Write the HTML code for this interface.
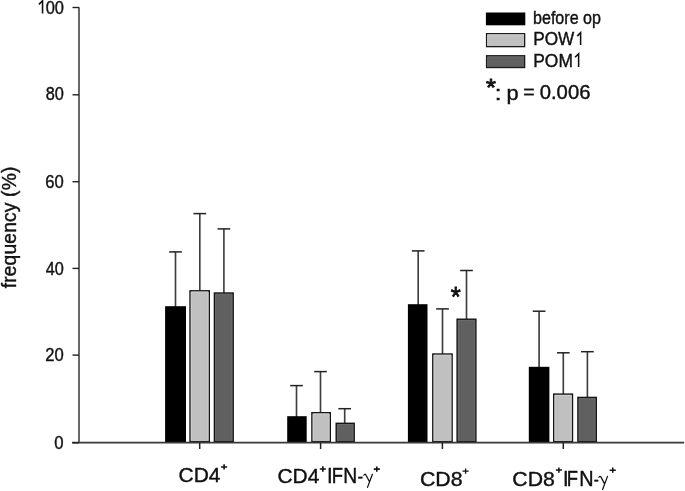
<!DOCTYPE html>
<html><head><meta charset="utf-8"><style>
html,body{margin:0;padding:0;background:#fff;}
svg{display:block;}
text{font-family:"Liberation Sans",sans-serif;fill:#111;font-kerning:none;stroke:#111;stroke-width:0.4px;}
</style></head><body>
<svg style="will-change:transform" width="685" height="491" viewBox="0 0 685 491">
<rect width="685" height="491" fill="#fff"/>
<line x1="175.50" y1="307.20" x2="175.50" y2="251.90" stroke="#3e3e3e" stroke-width="1.65"/>
<line x1="169.15" y1="251.90" x2="181.85" y2="251.90" stroke="#222" stroke-width="1.5"/>
<line x1="199.80" y1="291.10" x2="199.80" y2="213.60" stroke="#3e3e3e" stroke-width="1.65"/>
<line x1="193.45" y1="213.60" x2="206.15" y2="213.60" stroke="#222" stroke-width="1.5"/>
<line x1="223.90" y1="293.30" x2="223.90" y2="228.90" stroke="#3e3e3e" stroke-width="1.65"/>
<line x1="217.55" y1="228.90" x2="230.25" y2="228.90" stroke="#222" stroke-width="1.5"/>
<line x1="296.50" y1="417.20" x2="296.50" y2="385.60" stroke="#3e3e3e" stroke-width="1.65"/>
<line x1="290.15" y1="385.60" x2="302.85" y2="385.60" stroke="#222" stroke-width="1.5"/>
<line x1="320.50" y1="413.00" x2="320.50" y2="371.60" stroke="#3e3e3e" stroke-width="1.65"/>
<line x1="314.15" y1="371.60" x2="326.85" y2="371.60" stroke="#222" stroke-width="1.5"/>
<line x1="344.70" y1="423.60" x2="344.70" y2="408.70" stroke="#3e3e3e" stroke-width="1.65"/>
<line x1="338.35" y1="408.70" x2="351.05" y2="408.70" stroke="#222" stroke-width="1.5"/>
<line x1="418.20" y1="305.20" x2="418.20" y2="250.90" stroke="#3e3e3e" stroke-width="1.65"/>
<line x1="411.85" y1="250.90" x2="424.55" y2="250.90" stroke="#222" stroke-width="1.5"/>
<line x1="442.50" y1="354.30" x2="442.50" y2="308.90" stroke="#3e3e3e" stroke-width="1.65"/>
<line x1="436.15" y1="308.90" x2="448.85" y2="308.90" stroke="#222" stroke-width="1.5"/>
<line x1="466.50" y1="319.50" x2="466.50" y2="270.50" stroke="#3e3e3e" stroke-width="1.65"/>
<line x1="460.15" y1="270.50" x2="472.85" y2="270.50" stroke="#222" stroke-width="1.5"/>
<line x1="539.10" y1="367.80" x2="539.10" y2="311.20" stroke="#3e3e3e" stroke-width="1.65"/>
<line x1="532.75" y1="311.20" x2="545.45" y2="311.20" stroke="#222" stroke-width="1.5"/>
<line x1="563.30" y1="394.40" x2="563.30" y2="352.80" stroke="#3e3e3e" stroke-width="1.65"/>
<line x1="556.95" y1="352.80" x2="569.65" y2="352.80" stroke="#222" stroke-width="1.5"/>
<line x1="587.40" y1="397.70" x2="587.40" y2="351.70" stroke="#3e3e3e" stroke-width="1.65"/>
<line x1="581.05" y1="351.70" x2="593.75" y2="351.70" stroke="#222" stroke-width="1.5"/>
<rect x="165.10" y="306.20" width="20.90" height="136.60" fill="#000"/>
<rect x="190.03" y="290.83" width="19.25" height="150.95" fill="#c0c0c0" stroke="#151515" stroke-width="1.45"/>
<path d="M191.25,440.60V292.05H208.05V440.60" fill="none" stroke="#d0d0d0" stroke-width="0.9"/>
<rect x="214.42" y="293.03" width="18.75" height="148.75" fill="#606060" stroke="#151515" stroke-width="1.45"/>
<path d="M215.65,440.60V294.25H231.95V440.60" fill="none" stroke="#6c6c6c" stroke-width="0.9"/>
<rect x="287.20" y="416.20" width="19.50" height="26.60" fill="#000"/>
<rect x="311.93" y="412.73" width="18.35" height="29.05" fill="#c0c0c0" stroke="#151515" stroke-width="1.45"/>
<path d="M313.15,440.60V413.95H329.05V440.60" fill="none" stroke="#d0d0d0" stroke-width="0.9"/>
<rect x="336.23" y="423.33" width="17.95" height="18.45" fill="#606060" stroke="#151515" stroke-width="1.45"/>
<path d="M337.45,440.60V424.55H352.95V440.60" fill="none" stroke="#6c6c6c" stroke-width="0.9"/>
<rect x="407.90" y="304.20" width="19.60" height="138.60" fill="#000"/>
<rect x="432.83" y="354.03" width="19.25" height="87.75" fill="#c0c0c0" stroke="#151515" stroke-width="1.45"/>
<path d="M434.05,440.60V355.25H450.85V440.60" fill="none" stroke="#d0d0d0" stroke-width="0.9"/>
<rect x="457.12" y="319.23" width="18.75" height="122.55" fill="#606060" stroke="#151515" stroke-width="1.45"/>
<path d="M458.35,440.60V320.45H474.65V440.60" fill="none" stroke="#6c6c6c" stroke-width="0.9"/>
<rect x="528.80" y="366.80" width="20.60" height="76.00" fill="#000"/>
<rect x="553.73" y="394.12" width="18.75" height="47.65" fill="#c0c0c0" stroke="#151515" stroke-width="1.45"/>
<path d="M554.95,440.60V395.35H571.25V440.60" fill="none" stroke="#d0d0d0" stroke-width="0.9"/>
<rect x="577.93" y="397.43" width="18.35" height="44.35" fill="#606060" stroke="#151515" stroke-width="1.45"/>
<path d="M579.15,440.60V398.65H595.05V440.60" fill="none" stroke="#6c6c6c" stroke-width="0.9"/>
<line x1="79" y1="7.3" x2="79" y2="443" stroke="#424242" stroke-width="1.6"/>
<line x1="72" y1="442.65" x2="684.2" y2="442.65" stroke="#393939" stroke-width="1.8"/>
<line x1="72.5" y1="7.5" x2="79" y2="7.5" stroke="#222" stroke-width="1.4"/>
<line x1="72.5" y1="94.8" x2="79" y2="94.8" stroke="#222" stroke-width="1.4"/>
<line x1="72.5" y1="181.7" x2="79" y2="181.7" stroke="#222" stroke-width="1.4"/>
<line x1="72.5" y1="268.4" x2="79" y2="268.4" stroke="#222" stroke-width="1.4"/>
<line x1="72.5" y1="355.1" x2="79" y2="355.1" stroke="#222" stroke-width="1.4"/>
<line x1="72.5" y1="442.8" x2="79" y2="442.8" stroke="#222" stroke-width="1.4"/>
<line x1="199.7" y1="442.8" x2="199.7" y2="449" stroke="#222" stroke-width="1.5"/>
<line x1="320.6" y1="442.8" x2="320.6" y2="449" stroke="#222" stroke-width="1.5"/>
<line x1="442.4" y1="442.8" x2="442.4" y2="449" stroke="#222" stroke-width="1.5"/>
<line x1="563.3" y1="442.8" x2="563.3" y2="449" stroke="#222" stroke-width="1.5"/>
<text transform="translate(45.66,13.52) scale(0.9082,1)" font-size="18.10" >00</text>
<text transform="translate(45.69,100.22) scale(0.9013,1)" font-size="18.10" >80</text>
<text transform="translate(45.26,187.92) scale(0.9186,1)" font-size="18.10" >60</text>
<text transform="translate(45.73,274.62) scale(0.8995,1)" font-size="18.10" >40</text>
<text transform="translate(45.26,361.22) scale(0.9182,1)" font-size="18.10" >20</text>
<text transform="translate(54.35,448.92) scale(0.9246,1)" font-size="18.10" >0</text>
<text transform="translate(178.53,482.40) scale(0.9957,1)" font-size="21.08" >CD4</text>
<text transform="translate(277.44,483.40) scale(1.0071,1)" font-size="20.78" >CD4</text>
<text transform="translate(326.91,483.40) scale(0.9500,1)" font-size="21.51" >I</text>
<text transform="translate(331.69,483.40) scale(0.8560,1)" font-size="21.51" >F</text>
<text transform="translate(343.31,483.40) scale(0.8988,1)" font-size="21.51" >N</text>
<text transform="translate(357.55,483.36) scale(0.9371,1)" font-size="17.92" >-</text>
<text transform="translate(419.92,485.50) scale(1.0176,1)" font-size="20.93" >CD8</text>
<text transform="translate(512.32,485.50) scale(1.0081,1)" font-size="21.08" >CD8</text>
<text transform="translate(563.05,485.90) scale(0.9500,1)" font-size="21.22" >I</text>
<text transform="translate(566.69,485.90) scale(0.8677,1)" font-size="21.22" >F</text>
<text transform="translate(579.37,485.90) scale(0.9364,1)" font-size="21.22" >N</text>
<text transform="translate(593.83,485.66) scale(0.8457,1)" font-size="17.92" >-</text>
<text transform="translate(533.06,24.05) scale(0.9134,1)" font-size="17.59" >before op</text>
<text transform="translate(533.29,44.82) scale(0.9585,1)" font-size="17.94" >POW</text>
<text transform="translate(533.27,66.82) scale(0.9409,1)" font-size="18.50" >POM</text>
<text transform="translate(485.99,95.95) scale(1.0274,1)" font-size="24.78" style="stroke-width:0.9px">*</text>
<text transform="translate(494.69,99.70) scale(1.2271,1)" font-size="19.69" >:</text>
<text transform="translate(506.50,99.54) scale(1.0613,1)" font-size="20.53" >p</text>
<text transform="translate(523.25,98.98) scale(1.0028,1)" font-size="19.50" >=</text>
<text transform="translate(539.71,98.81) scale(1.0488,1)" font-size="19.35" >0.006</text>
<text transform="translate(450.69,306.01) scale(0.9316,1)" font-size="27.63" style="stroke-width:0.8px">*</text>
<path d="M221.05,466.95H227.15M224.10,464.30V469.60" stroke="#111" stroke-width="1.6" fill="none"/>
<path d="M319.80,469.00H325.90M322.85,466.35V471.65" stroke="#111" stroke-width="1.6" fill="none"/>
<path d="M373.75,469.10H379.85M376.80,466.45V471.75" stroke="#111" stroke-width="1.6" fill="none"/>
<path d="M462.55,471.20H468.65M465.60,468.55V473.85" stroke="#111" stroke-width="1.3" fill="none"/>
<path d="M555.85,470.10H561.95M558.90,467.45V472.75" stroke="#111" stroke-width="1.5" fill="none"/>
<path d="M609.70,470.20H615.80M612.75,467.55V472.85" stroke="#111" stroke-width="1.5" fill="none"/>
<path d="M38.9,4.4 L42.55,0.8 L42.55,13.5" stroke="#111" stroke-width="1.55" fill="none" stroke-linejoin="miter"/>
<path d="M577.2,36.1 L580.6,32.6 L580.6,45.0" stroke="#111" stroke-width="1.55" fill="none" stroke-linejoin="miter"/>
<path d="M575.0,57.3 L578.6,53.9 L578.6,67.0" stroke="#111" stroke-width="1.55" fill="none" stroke-linejoin="miter"/>
<path transform="translate(0.00,0.00)" d="M363.8,475.2 Q364.7,473.5 365.8,474.8 L369.5,481.8 M372.4,474.3 L367.5,487.4" fill="none" stroke="#111" stroke-width="1.25" stroke-linecap="round" stroke-linejoin="round"/>
<path transform="translate(235.10,2.10)" d="M363.8,475.2 Q364.7,473.5 365.8,474.8 L369.5,481.8 M372.4,474.3 L367.5,487.4" fill="none" stroke="#111" stroke-width="1.25" stroke-linecap="round" stroke-linejoin="round"/>
<text transform="translate(15.6,288.3) rotate(-90)" textLength="121.7" lengthAdjust="spacing" font-size="19.3">frequency (%)</text>
<rect x="485.9" y="12.5" width="39.4" height="12.8" fill="#000"/>
<rect x="486.55" y="33.65" width="38.1" height="13.0" fill="#c0c0c0" stroke="#1a1a1a" stroke-width="1.3"/>
<path d="M487.7,45.8V34.8H524.1" fill="none" stroke="#d0d0d0" stroke-width="0.9"/>
<rect x="486.55" y="55.75" width="38.1" height="11.8" fill="#606060" stroke="#1a1a1a" stroke-width="1.3"/>
<path d="M487.7,66.6V56.9H524.1" fill="none" stroke="#6c6c6c" stroke-width="0.9"/>
</svg>
</body></html>
